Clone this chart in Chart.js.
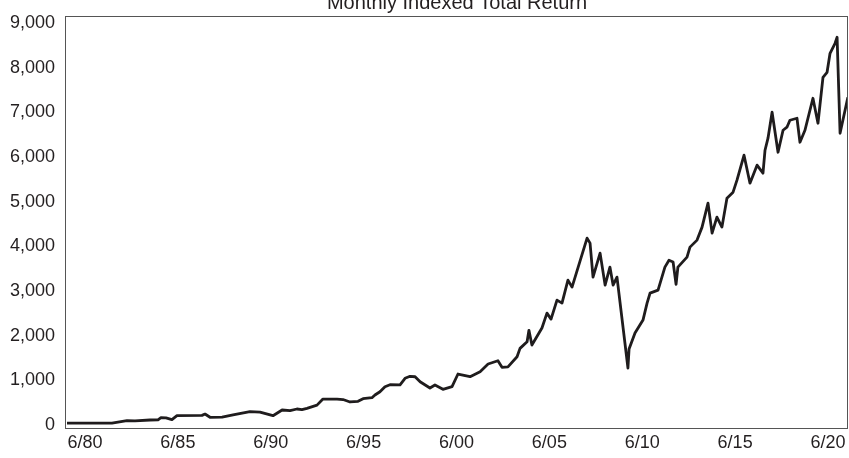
<!DOCTYPE html>
<html>
<head>
<meta charset="utf-8">
<script src="https://cdn.jsdelivr.net/npm/chart.js@4/dist/chart.umd.min.js"></script>
<style>
  html, body { margin: 0; padding: 0; background: #fff; }
  #wrap { width: 849px; height: 458px; overflow: hidden; position: relative; }
  #chart { position: absolute; left: 0; top: -14px; }
</style>
</head>
<body>
<div id="wrap"><canvas id="chart" width="849" height="472"></canvas></div>
<script>
// Monthly indexed total return
const years = [1979.53, 1981.95, 1982.76, 1983.19, 1984.0, 1984.43, 1984.59, 1984.86, 1985.18, 1985.45,
  1986.8, 1986.96, 1987.23, 1987.88, 1988.47, 1989.38, 1989.92, 1990.62, 1991.11, 1991.54,
  1991.91, 1992.18, 1992.45, 1992.99, 1993.31, 1994.07, 1994.39, 1994.77, 1995.2, 1995.47,
  1995.95, 1996.11, 1996.38, 1996.65, 1996.92, 1997.46, 1997.73, 1998.0, 1998.27, 1998.54,
  1999.07, 1999.34, 1999.77, 2000.26, 2000.58, 2001.23, 2001.77, 2002.2, 2002.73, 2002.95,
  2003.27, 2003.76, 2003.92, 2004.3, 2004.4, 2004.56, 2005.1, 2005.37, 2005.59, 2005.91,
  2006.18, 2006.5, 2006.72, 2007.53, 2007.69, 2007.85, 2008.23, 2008.5, 2008.76, 2008.93,
  2009.14, 2009.73, 2009.79, 2010.11, 2010.54, 2010.76, 2010.92, 2011.35, 2011.72, 2011.94,
  2012.16, 2012.32, 2012.42, 2012.91, 2013.07, 2013.45, 2013.72, 2014.04, 2014.26, 2014.52,
  2014.79, 2015.06, 2015.39, 2015.6, 2015.98, 2016.3, 2016.68, 2017.0, 2017.11, 2017.27,
  2017.49, 2017.81, 2018.08, 2018.29, 2018.45, 2018.83, 2018.99, 2019.26, 2019.69, 2019.96,
  2020.23, 2020.45, 2020.61, 2020.88, 2020.99, 2021.15, 2021.57];

const values = [40, 40, 96, 90, 112, 115, 165, 160, 120, 210,
  215, 245, 172, 175, 224, 298, 290, 208, 335, 320,
  358, 345, 373, 445, 581, 580, 570, 515, 530, 589,
  611, 671, 745, 857, 902, 900, 1045, 1090, 1080, 969,
  828, 895, 798, 857, 1141, 1081, 1193, 1365, 1439, 1291,
  1300, 1528, 1715, 1864, 2120, 1790, 2170, 2505, 2370, 2796,
  2729, 3244, 3087, 4183, 4072, 3311, 3848, 3132, 3535, 3132,
  3311, 1275, 1700, 2058, 2349, 2729, 2953, 3020, 3535, 3690,
  3650, 3150, 3535, 3758, 3982, 4139, 4430, 4966, 4295, 4653,
  4430, 5078, 5213, 5481, 6040, 5414, 5817, 5638, 6152, 6421,
  7002, 6107, 6599, 6667, 6823, 6868, 6331, 6599, 7315, 6756,
  7785, 7897, 8322, 8546, 8680, 6532, 7338];

const xTickPos = [1980.5, 1985.5, 1990.5, 1995.5, 2000.5, 2005.5, 2010.5, 2015.5, 2020.5];
const xTickLabels = ['6/80', '6/85', '6/90', '6/95', '6/00', '6/05', '6/10', '6/15', '6/20'];
const yTicks = [0, 1000, 2000, 3000, 4000, 5000, 6000, 7000, 8000, 9000];

Chart.defaults.font.family = '"Liberation Sans", Arial, Helvetica, sans-serif';
Chart.defaults.color = '#231f20';

// box round the plot area
const frame = {
  id: 'frame',
  afterDraw(chart) {
    const a = chart.chartArea;
    const ctx = chart.ctx;
    ctx.save();
    ctx.strokeStyle = '#555';
    ctx.lineWidth = 1;
    ctx.strokeRect(Math.round(a.left) - 0.5, Math.round(a.top) + 0.5,
      Math.round(a.right - a.left), Math.round(a.bottom - a.top) - 1);
    ctx.restore();
  }
};

new Chart(document.getElementById('chart'), {
  type: 'line',
  data: {
    datasets: [{
      data: years.map((x, i) => ({ x: x, y: values[i] })),
      borderColor: '#1f1c1d',
      borderWidth: 2.8,
      borderJoinStyle: 'round',
      pointRadius: 0,
      tension: 0,
      fill: false
    }]
  },
  options: {
    responsive: false,
    animation: false,
    devicePixelRatio: 1,
    layout: { padding: { left: 0, right: 1, top: 0, bottom: 0 } },
    plugins: {
      legend: { display: false },
      tooltip: { enabled: false },
      title: {
        display: true,
        text: 'Monthly Indexed Total Return',
        fullSize: false,
        color: '#231f20',
        font: { size: 20, weight: 'normal' },
        padding: { top: 5, bottom: 1 }
      }
    },
    scales: {
      x: {
        type: 'linear',
        min: 1979.477,
        max: 2021.577,
        grid: { display: false, drawTicks: false },
        border: { display: false },
        afterBuildTicks: axis => { axis.ticks = xTickPos.map(v => ({ value: v })); },
        afterFit: axis => { axis.height = 29; },
        ticks: {
          autoSkip: false,
          maxRotation: 0,
          padding: 3,
          font: { size: 18 },
          callback: (v, i) => xTickLabels[i]
        }
      },
      y: {
        min: -90,
        max: 9157,
        grid: { display: false, drawTicks: false },
        border: { display: false },
        afterBuildTicks: axis => { axis.ticks = yTicks.map(v => ({ value: v })); },
        afterFit: axis => { axis.width = 66; },
        ticks: {
          padding: 11,
          font: { size: 18 },
          callback: v => v.toLocaleString('en-US')
        }
      }
    }
  },
  plugins: [frame]
});
</script>
</body>
</html>
